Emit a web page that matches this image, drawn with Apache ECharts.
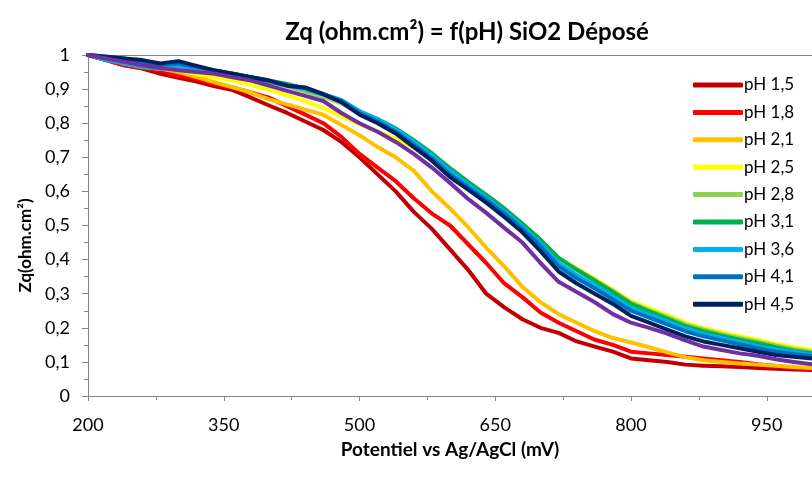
<!DOCTYPE html>
<html>
<head>
<meta charset="utf-8">
<script src="https://cdn.jsdelivr.net/npm/echarts@6/dist/echarts.min.js"></script>
<style>
html, body { margin: 0; padding: 0; background: #fff; }
#chart0 { width: 812px; height: 477px; }
</style>
</head>
<body>
<div id="chart0"></div>
<script>
// potentiel (mV)
var potentiel = [200, 220, 240, 260, 280, 300, 320, 340, 360, 380, 400, 420, 440, 460, 480, 500, 520, 540, 560, 580,
	600, 620, 640, 660, 680, 700, 720, 740, 760, 780, 800, 820, 840, 860, 880, 900, 920, 940, 960, 980, 1000];

// Zq par pH
var ph15 = [1.0, 0.985, 0.97, 0.96, 0.945, 0.933, 0.922, 0.908, 0.897, 0.875, 0.852, 0.83, 0.805, 0.78, 0.745, 0.70, 0.65, 0.60, 0.54, 0.49,
	0.43, 0.37, 0.30, 0.26, 0.225, 0.20, 0.185, 0.16, 0.145, 0.13, 0.11, 0.105, 0.10, 0.092, 0.089, 0.087, 0.085, 0.082, 0.08, 0.078, 0.076];
var ph18 = [1.0, 0.985, 0.97, 0.962, 0.955, 0.94, 0.93, 0.915, 0.905, 0.89, 0.875, 0.85, 0.825, 0.80, 0.76, 0.71, 0.67, 0.63, 0.58, 0.535,
	0.50, 0.445, 0.39, 0.33, 0.29, 0.245, 0.215, 0.19, 0.165, 0.15, 0.13, 0.125, 0.12, 0.115, 0.11, 0.105, 0.10, 0.093, 0.088, 0.083, 0.078];
var ph21 = [1.0, 0.99, 0.975, 0.965, 0.96, 0.95, 0.935, 0.92, 0.905, 0.89, 0.87, 0.855, 0.84, 0.825, 0.795, 0.765, 0.73, 0.70, 0.66, 0.60,
	0.55, 0.495, 0.435, 0.38, 0.32, 0.275, 0.24, 0.215, 0.19, 0.17, 0.157, 0.143, 0.128, 0.114, 0.105, 0.10, 0.095, 0.092, 0.089, 0.085, 0.082];
var ph25 = [1.0, 0.99, 0.98, 0.97, 0.962, 0.955, 0.945, 0.935, 0.925, 0.912, 0.898, 0.882, 0.865, 0.845, 0.82, 0.797, 0.775, 0.755, 0.728, 0.698,
	0.66, 0.622, 0.585, 0.548, 0.505, 0.458, 0.405, 0.375, 0.344, 0.312, 0.278, 0.258, 0.238, 0.215, 0.20, 0.187, 0.175, 0.165, 0.153, 0.143, 0.135];
var ph28 = [1.0, 0.99, 0.98, 0.97, 0.965, 0.965, 0.958, 0.95, 0.94, 0.93, 0.92, 0.908, 0.893, 0.878, 0.858, 0.83, 0.808, 0.782, 0.748, 0.71,
	0.667, 0.627, 0.59, 0.55, 0.505, 0.458, 0.405, 0.372, 0.34, 0.308, 0.274, 0.252, 0.232, 0.21, 0.195, 0.182, 0.17, 0.16, 0.148, 0.138, 0.13];
var ph31 = [1.0, 0.99, 0.985, 0.975, 0.968, 0.97, 0.962, 0.955, 0.945, 0.935, 0.925, 0.915, 0.90, 0.885, 0.865, 0.835, 0.812, 0.785, 0.75, 0.712,
	0.668, 0.628, 0.59, 0.55, 0.505, 0.458, 0.405, 0.37, 0.338, 0.305, 0.27, 0.248, 0.227, 0.205, 0.19, 0.177, 0.165, 0.155, 0.143, 0.133, 0.125];
var ph36 = [1.0, 0.985, 0.975, 0.965, 0.96, 0.965, 0.96, 0.952, 0.943, 0.933, 0.922, 0.91, 0.90, 0.885, 0.868, 0.835, 0.812, 0.782, 0.745, 0.705,
	0.66, 0.62, 0.582, 0.542, 0.497, 0.448, 0.39, 0.355, 0.325, 0.292, 0.258, 0.238, 0.218, 0.198, 0.182, 0.17, 0.158, 0.146, 0.136, 0.128, 0.121];
var ph41 = [1.0, 0.995, 0.99, 0.98, 0.972, 0.975, 0.965, 0.955, 0.945, 0.935, 0.925, 0.912, 0.903, 0.885, 0.865, 0.83, 0.805, 0.775, 0.737, 0.697,
	0.65, 0.612, 0.575, 0.535, 0.49, 0.44, 0.38, 0.345, 0.315, 0.283, 0.25, 0.23, 0.21, 0.19, 0.175, 0.163, 0.152, 0.14, 0.13, 0.123, 0.117];
var ph45 = [1.0, 0.995, 0.99, 0.985, 0.975, 0.982, 0.968, 0.955, 0.945, 0.935, 0.925, 0.91, 0.905, 0.885, 0.862, 0.825, 0.80, 0.77, 0.73, 0.69,
	0.642, 0.605, 0.567, 0.525, 0.48, 0.425, 0.365, 0.33, 0.30, 0.27, 0.235, 0.215, 0.195, 0.175, 0.16, 0.15, 0.14, 0.13, 0.12, 0.115, 0.11];
// courbe violette (absente de la légende)
var phX = [1.0, 0.99, 0.98, 0.97, 0.962, 0.955, 0.95, 0.945, 0.935, 0.925, 0.91, 0.895, 0.88, 0.865, 0.83, 0.80, 0.775, 0.745, 0.71, 0.67,
	0.625, 0.578, 0.537, 0.493, 0.45, 0.39, 0.335, 0.305, 0.275, 0.24, 0.215, 0.20, 0.183, 0.163, 0.145, 0.135, 0.125, 0.118, 0.108, 0.10, 0.093];

var serieNames = ["pH 1,5", "pH 1,8", "pH 2,1", "pH 2,5", "pH 2,8", "pH 3,1", "pH 3,6", "pH 4,1", "pH 4,5", "pH ?"];
var serieValues = [ph15, ph18, ph21, ph25, ph28, ph31, ph36, ph41, ph45, phX];
var serieColors = ["#C00000", "#FF0000", "#FFC000", "#FFFF00", "#92D050", "#00B050", "#00B0F0", "#0070C0", "#002060", "#7030A0"];

var axisColor = "#868686";
var font = "Lato, 'Open Sans', sans-serif";

function toPairs(values) {
	// [potentiel, Zq]
	var out = [];
	for (var k = 0; k < values.length; k++) {
		out.push([potentiel[k], values[k]]);
	}
	return out;
}

function fmtComma(value) {
	if (value === 0 || value === 1) {
		return String(value);
	}
	return value.toFixed(1).replace(".", ",");
}

var series = [];
for (var i = 0; i < serieNames.length; i++) {
	series.push({
		name : serieNames[i],
		type : "line",
		data : toPairs(serieValues[i]),
		showSymbol : false,
		silent : true,
		color : serieColors[i],
		lineStyle : {
			color : serieColors[i],
			width : 4,
			cap : "round",
			join : "round"
		}
	});
}

var chart = echarts.init(document.getElementById("chart0"), null, { renderer : "canvas" });
chart.setOption({
	animation : false,
	backgroundColor : "#fff",
	textStyle : { fontFamily : font },
	title : {
		text : "Zq (ohm.cm²) = f(pH) SiO2 Déposé",
		left : 462,
		top : 15,
		textAlign : "center",
		textStyle : {
			fontFamily : font,
			fontSize : 24,
			fontWeight : "bold",
			color : "#000"
		}
	},
	legend : {
		data : serieNames.slice(0, 9),
		orient : "vertical",
		left : 688,
		top : 70,
		itemWidth : 50,
		itemHeight : 5,
		itemGap : 7.4,
		icon : "roundRect",
		textStyle : {
			fontFamily : font,
			fontSize : 17,
			lineHeight : 20,
			color : "#000",
			padding : [0, 0, 0, -4]
		}
	},
	grid : {
		left : 88,
		top : 55,
		right : 0,
		bottom : 81,
		containLabel : false
	},
	xAxis : [ {
		type : "value",
		min : 200,
		max : 1000,
		interval : 150,
		name : "Potentiel vs Ag/AgCl (mV)",
		nameLocation : "middle",
		nameGap : 44,
		nameTextStyle : {
			fontFamily : font,
			fontSize : 19,
			fontWeight : "bold",
			color : "#000"
		},
		axisLine : { lineStyle : { color : axisColor, width : 1 } },
		axisTick : { length : 5, lineStyle : { color : axisColor } },
		minorTick : { show : true, splitNumber : 2, length : 4, lineStyle : { color : axisColor } },
		splitLine : { show : false },
		axisLabel : {
			showMaxLabel : false,
			margin : 20,
			fontFamily : font,
			fontSize : 18,
			color : "#000"
		}
	}, {
		// bord supérieur du tracé
		type : "value",
		position : "top",
		min : 200,
		max : 1000,
		axisLine : { show : true, lineStyle : { color : axisColor, width : 1 } },
		axisTick : { show : false },
		axisLabel : { show : false },
		splitLine : { show : false }
	} ],
	yAxis : {
		type : "value",
		min : 0,
		max : 1,
		interval : 0.1,
		name : "Zq(ohm.cm²)",
		nameLocation : "middle",
		nameGap : 54,
		nameTextStyle : {
			fontFamily : font,
			fontSize : 17,
			fontWeight : "bold",
			color : "#000",
			padding : [0, 40, 0, 0]
		},
		axisLine : { show : true, lineStyle : { color : axisColor, width : 1 } },
		axisTick : { show : true, length : 6, lineStyle : { color : axisColor } },
		minorTick : { show : true, splitNumber : 2, length : 4, lineStyle : { color : axisColor } },
		splitLine : { show : false },
		axisLabel : {
			margin : 18,
			fontFamily : font,
			fontSize : 18,
			color : "#000",
			formatter : fmtComma
		}
	},
	series : series
});
</script>
</body>
</html>
